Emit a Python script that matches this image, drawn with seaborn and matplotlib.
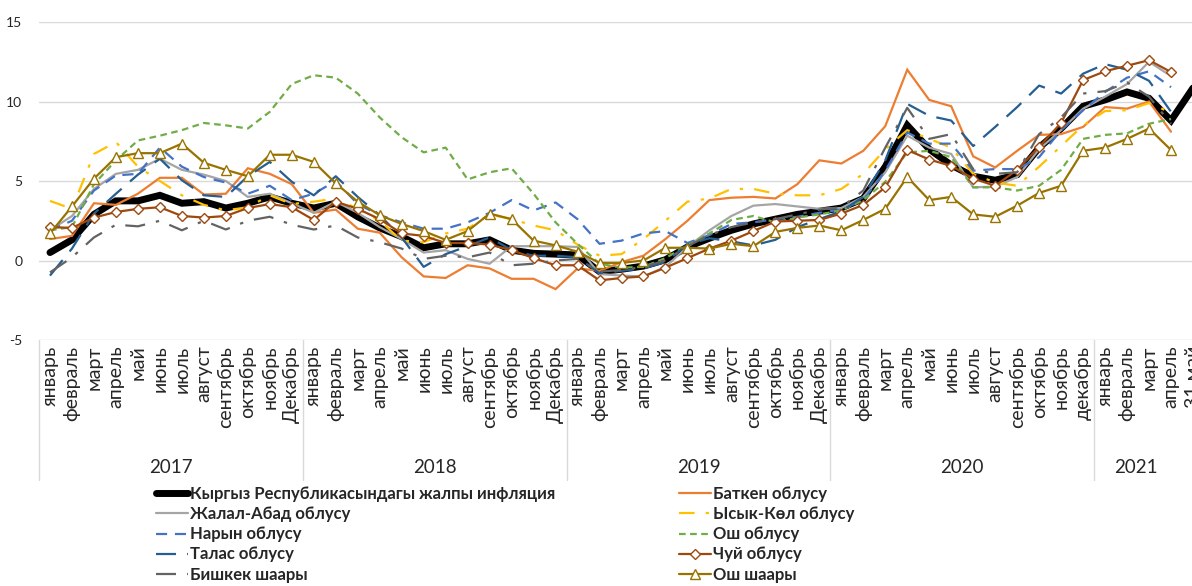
import numpy as np
import pandas as pd
import matplotlib
matplotlib.use("Agg")
import matplotlib.pyplot as plt
from matplotlib.lines import Line2D
import seaborn as sns

# --- Data ---
years = ["2017", "2018", "2019", "2020", "2021"]
months = ["январь", "февраль", "март", "апрель", "май", "июнь", "июль",
          "август", "сентябрь", "октябрь", "ноябрь", "Декабрь"]
month_labels = (months * 3 + months[:11] + ["декабрь"]
                + months[:4] + ["31 май"])

total = [0.5, 1.3, 2.9, 3.75, 3.75, 4.1, 3.6, 3.7, 3.3, 3.6, 4.0, 3.6,
         3.3, 3.6, 2.75, 2.05, 1.5, 0.8, 1.05, 1.05, 1.3, 0.65, 0.45, 0.4,
         0.35, -0.7, -0.55, -0.35, 0.05, 0.85, 1.4, 1.9, 2.3, 2.6, 2.9, 3.1,
         3.3, 3.9, 5.9, 8.5, 7.0, 6.0, 5.3, 5.05, 5.4, 7.1, 8.3, 9.7,
         10.1, 10.6, 10.2, 8.8, 10.85]
batken = [1.35, 1.55, 3.6, 3.5, 4.2, 5.2, 5.2, 4.15, 4.2, 5.8, 5.45, 4.8,
          3.0, 3.2, 2.0, 1.75, 0.2, -1.0, -1.1, -0.3, -0.5, -1.15, -1.15, -1.8,
          -0.5, -0.65, -0.1, 0.3, 1.35, 2.5, 3.8, 3.95, 4.0, 3.9, 4.8, 6.3,
          6.1, 6.9, 8.45, 12.0, 10.1, 9.7, 6.55, 5.85, 6.9, 7.9, 7.95, 8.4,
          9.65, 9.55, 10.0, 8.1]
jalal_abad = [1.9, 2.8, 4.5, 5.45, 5.7, 6.4, 5.7, 5.4, 5.0, 4.0, 4.2, 3.6,
              3.0, 3.7, 3.0, 2.1, 1.35, 0.5, 0.65, 0.1, -0.2, 0.9, 0.9, 0.9,
              0.85, -0.85, -0.95, -1.0, -0.4, 0.85, 1.9, 2.8, 3.45, 3.55, 3.4, 3.25,
              3.3, 4.0, 5.55, 7.85, 7.1, 6.7, 4.6, 4.65, 5.25, 7.0, 8.2, 9.55,
              10.3, 11.1, 12.5, 11.6]
issyk_kul = [3.75, 3.25, 6.7, 7.45, 5.9, 5.0, 4.1, 3.5, 3.15, 3.35, 4.1, 3.55,
             3.7, 3.9, 3.25, 2.5, 1.25, 1.15, 1.7, 2.0, 2.9, 2.6, 2.2, 1.9,
             1.0, 0.3, 0.4, 1.35, 2.5, 3.7, 3.9, 4.5, 4.5, 4.2, 4.1, 4.1,
             4.5, 5.45, 7.0, 8.2, 7.65, 7.1, 5.45, 4.9, 4.7, 5.9, 7.2, 8.5,
             9.4, 9.45, 9.9, 9.3]
naryn = [1.9, 2.5, 4.4, 5.35, 5.45, 7.1, 5.9, 5.25, 4.9, 4.2, 4.7, 3.8,
         4.2, 5.0, 3.55, 2.85, 2.4, 2.0, 2.0, 2.4, 3.0, 3.8, 3.15, 3.65,
         2.6, 1.05, 1.25, 1.7, 1.85, 1.1, 1.6, 2.3, 2.4, 2.6, 2.75, 3.0,
         3.2, 3.8, 5.65, 8.05, 7.35, 7.35, 5.65, 5.75, 5.75, 6.5, 8.2, 9.45,
         10.6, 11.5, 11.9, 10.9]
osh_region = [1.9, 2.1, 4.8, 6.3, 7.55, 7.85, 8.2, 8.65, 8.5, 8.3, 9.35, 11.1,
              11.65, 11.5, 10.5, 9.0, 7.75, 6.8, 7.1, 5.1, 5.55, 5.8, 4.2, 2.4,
              1.05, -0.2, -0.45, -0.4, 0.15, 0.95, 1.7, 2.55, 2.8, 2.4, 2.7, 2.9,
              3.15, 3.8, 4.95, 6.8, 6.9, 6.5, 4.6, 4.6, 4.4, 4.7, 5.7, 7.65,
              7.9, 8.0, 8.6, 8.9]
talas = [-0.95, 0.75, 2.95, 4.2, 5.4, 6.4, 5.05, 4.1, 4.0, 5.3, 6.2, 4.95,
         4.1, 5.3, 4.0, 2.85, 1.45, -0.4, 0.4, 0.9, 1.45, 0.65, 0.3, 0.3,
         0.2, -0.8, -0.65, -0.5, -0.1, 1.0, 1.4, 1.2, 0.95, 1.3, 2.1, 2.6,
         3.1, 4.0, 6.3, 9.85, 9.1, 8.8, 7.2, 8.4, 9.65, 11.0, 10.5, 11.75,
         12.35, 12.0, 11.3, 9.35]
chui = [2.1, 2.05, 2.7, 3.05, 3.25, 3.35, 2.8, 2.7, 2.8, 3.3, 3.55, 3.35,
        2.55, 3.7, 3.25, 2.6, 1.7, 1.55, 1.1, 1.1, 1.0, 0.65, 0.15, -0.3,
        -0.3, -1.25, -1.1, -1.0, -0.45, 0.15, 0.75, 1.25, 1.85, 2.45, 2.5, 2.55,
        2.95, 3.5, 4.6, 6.95, 6.35, 5.95, 5.15, 4.7, 5.7, 7.15, 8.65, 11.35,
        11.9, 12.25, 12.6, 11.85]
bishkek = [-0.75, 0.2, 1.45, 2.25, 2.15, 2.5, 1.9, 2.5, 1.95, 2.5, 2.75, 2.25,
           1.95, 2.2, 1.45, 1.15, 0.75, 0.1, 0.3, 0.2, 0.5, -0.3, -0.2, 0.0,
           0.1, -0.7, -0.6, -0.4, 0.0, 0.9, 1.6, 2.1, 2.4, 2.6, 2.9, 3.2,
           3.35, 4.4, 7.1, 9.6, 7.65, 7.95, 5.75, 5.45, 5.55, 7.95, 9.0, 10.5,
           10.65, 11.2, 10.3, 8.6]
osh_city = [1.7, 3.4, 5.15, 6.5, 6.75, 6.75, 7.35, 6.15, 5.7, 5.3, 6.65, 6.65,
            6.2, 4.85, 3.7, 2.85, 2.3, 1.85, 1.3, 1.85, 2.95, 2.6, 1.25, 0.95,
            0.55, -0.15, -0.15, 0.0, 0.8, 0.8, 0.75, 1.05, 0.9, 1.8, 2.05, 2.2,
            1.9, 2.55, 3.25, 5.25, 3.8, 4.0, 2.9, 2.75, 3.45, 4.25, 4.7, 6.9,
            7.1, 7.65, 8.3, 6.95]

names = ["Кыргыз Республикасындагы жалпы инфляция", "Баткен облусу",
         "Жалал-Абад облусу", "Ысык-Көл облусу", "Нарын облусу", "Ош облусу",
         "Талас облусу", "Чуй облусу", "Бишкек шаары", "Ош шаары"]
values = [total, batken, jalal_abad, issyk_kul, naryn, osh_region,
          talas, chui, bishkek, osh_city]

# --- Styles (Excel-like) ---
styles = [
    dict(color="black", lw=5.0, ls="-"),
    dict(color="#ED7D31", lw=1.6, ls="-"),
    dict(color="#A5A5A5", lw=1.6, ls="-"),
    dict(color="#FFC000", lw=1.6, ls=(0, (7, 5, 1.5, 5))),
    dict(color="#4472C4", lw=1.6, ls=(0, (5, 3.5))),
    dict(color="#70AD47", lw=1.6, ls=(0, (3, 2))),
    dict(color="#255E91", lw=1.6, ls=(0, (9, 5))),
    dict(color="#9E480E", lw=1.6, ls="-", marker="D", ms=5.5, mfc="white", mec="#9E480E", mew=1.0),
    dict(color="#636363", lw=1.6, ls=(0, (9, 5, 1.5, 5))),
    dict(color="#997300", lw=1.6, ls="-", marker="^", ms=7.5, mfc="white", mec="#997300", mew=1.0),
]

sns.set_style("white")
plt.rcParams["font.family"] = ["Lato", "DejaVu Sans"]

fig = plt.figure(figsize=(11.92, 5.86), dpi=100)
W, H = 1192, 586
ax = fig.add_axes([39 / W, (H - 340) / H, (1204 - 39) / W, 318 / H])

for name, vals, st in zip(names, values, styles):
    df = pd.DataFrame({"x": np.arange(len(vals)), "y": vals})
    sns.lineplot(data=df, x="x", y="y", ax=ax, label=name, legend=False,
                 color=st["color"], linewidth=st["lw"], linestyle=st["ls"],
                 marker=st.get("marker"), markersize=st.get("ms", 0),
                 markerfacecolor=st.get("mfc"), markeredgecolor=st.get("mec"),
                 markeredgewidth=st.get("mew", 0), solid_joinstyle="miter")

ax.set_ylim(-5, 15)
ax.set_xlim(-0.5, len(month_labels) - 0.5)
ax.set_yticks([-5, 0, 5, 10, 15])
ax.set_yticklabels(["-5", "0", "5", "10", "15"])
ax.tick_params(axis="y", length=0, pad=12, labelsize=10, colors="#262626")
ax.grid(axis="y", color="#D9D9D9", lw=1)
ax.set_axisbelow(True)
for s in ax.spines.values():
    s.set_visible(False)
ax.set_xlabel("")
ax.set_ylabel("")

# month labels
ax.set_xticks(np.arange(len(month_labels)))
ax.set_xticklabels(month_labels, rotation=90, fontsize=14, color="#262626")
ax.tick_params(axis="x", length=0, pad=4)

# year labels and separators
trans = ax.get_xaxis_transform()
year_pos = [5.5, 17.5, 29.5, 41.5, 49.4]
for yr, xp in zip(years, year_pos):
    ax.text(xp, -0.40, yr, transform=trans, ha="center", va="center",
            fontsize=13.5, color="#262626")
for b in range(0, len(month_labels), 12):
    ax.plot([b - 0.5, b - 0.5], [0, -0.44], transform=trans, color="#D9D9D9",
            lw=1, clip_on=False)

# legend in two columns, as in the reference
proxies = []
for st in styles:
    proxies.append(Line2D([], [], color=st["color"], lw=st["lw"], ls=st["ls"],
                          marker=st.get("marker"), ms=st.get("ms", 0),
                          mfc=st.get("mfc"), mec=st.get("mec"), mew=st.get("mew", 0)))
left_idx = [0, 2, 4, 6, 8]
right_idx = [1, 3, 5, 7, 9]
for idx, xpos in [(left_idx, 156 / W), (right_idx, 679 / W)]:
    fig.legend([proxies[i] for i in idx], [names[i] for i in idx],
               loc="upper left", bbox_to_anchor=(xpos, 1 - 486 / H),
               frameon=False, prop={"weight": "bold", "size": 12},
               handlelength=1.9, handletextpad=0.12, labelspacing=0.25,
               borderaxespad=0, borderpad=0)

fig.savefig("out.png", dpi=100, facecolor="white")
